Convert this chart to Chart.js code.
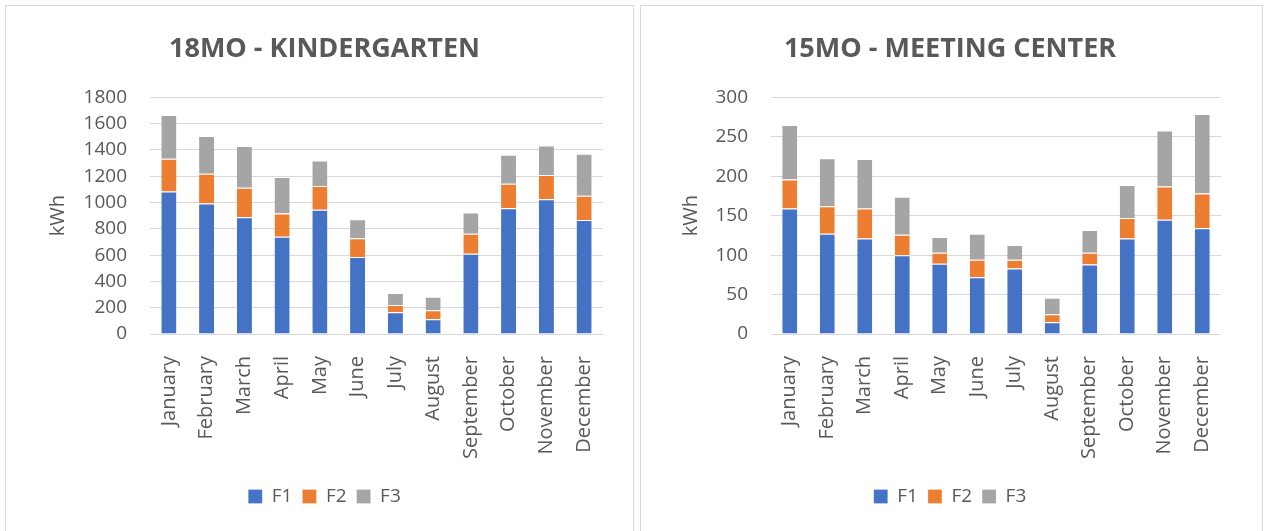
<!DOCTYPE html>
<html>
<head>
<meta charset="utf-8">
<script src="https://cdn.jsdelivr.net/npm/chart.js@4"></script>
<style>
  body { margin: 0; background: #fff; }
  .panel { position: absolute; top: 5px; height: 540px; border: 1px solid #d9d9d9; background: #fff; }
  #p1 { left: 5px; width: 627px; }
  #p2 { left: 640px; width: 621px; }
  canvas { display: block; }
</style>
</head>
<body>
<div class="panel" id="p1"><canvas id="kinderChart" width="627" height="526"></canvas></div>
<div class="panel" id="p2"><canvas id="meetingChart" width="621" height="526"></canvas></div>
<script>
const months = ['January', 'February', 'March', 'April', 'May', 'June', 'July', 'August', 'September', 'October', 'November', 'December'];

// 18MO - Kindergarten (kWh)
const kinderF1 = [1085, 993, 888, 740, 945, 585, 166, 112, 610, 957, 1026, 868];
const kinderF2 = [248, 227, 225, 177, 181, 143, 54, 69, 153, 187, 184, 184];
const kinderF3 = [334, 286, 317, 278, 194, 145, 91, 102, 161, 219, 225, 319];

// 15MO - Meeting center (kWh)
const meetingF1 = [159, 127, 121, 100, 89, 72, 83, 15, 88, 121, 145, 134];
const meetingF2 = [37, 35, 38, 26, 14, 22, 11, 10, 15, 26, 42, 44];
const meetingF3 = [69, 61, 63, 48, 20, 33, 19, 21, 29, 42, 71, 101];

const colors = ['#4472c4', '#ed7d31', '#a5a5a5'];
const txt = '#595959';
const fontFamily = "'Open Sans', 'Liberation Sans', sans-serif";

function makeChart(id, title, f1, f2, f3, max, step, leftPad, yWidth, rightPad) {
    const ctx = document.getElementById(id).getContext('2d');
    return new Chart(ctx, {
        type: 'bar',
        data: {
            labels: months,
            datasets: [
                { label: 'F1', data: f1, backgroundColor: colors[0] },
                { label: 'F2', data: f2, backgroundColor: colors[1] },
                { label: 'F3', data: f3, backgroundColor: colors[2] }
            ].map(d => Object.assign(d, {
                borderColor: '#ffffff',
                borderWidth: { top: 1 },
                borderSkipped: 'bottom',
                barPercentage: 0.4,
                categoryPercentage: 1
            }))
        },
        options: {
            responsive: false,
            animation: false,
            layout: { padding: { left: leftPad, right: rightPad, top: 12, bottom: 16 } },
            plugins: {
                title: {
                    display: true,
                    text: title,
                    color: txt,
                    font: { family: fontFamily, size: 27, weight: 'bold' },
                    padding: { top: 15, bottom: 32 }
                },
                legend: {
                    position: 'bottom',
                    labels: {
                        color: txt,
                        font: { family: fontFamily, size: 19 },
                        boxWidth: 14,
                        boxHeight: 14,
                        padding: 10
                    }
                },
                tooltip: { enabled: false }
            },
            scales: {
                x: {
                    stacked: true,
                    grid: { display: false },
                    border: { display: false },
                    afterFit: scale => { scale.height = 143; },
                    ticks: {
                        color: txt,
                        font: { family: fontFamily, size: 20 },
                        minRotation: 90,
                        maxRotation: 90,
                        autoSkip: false,
                        padding: 14
                    }
                },
                y: {
                    stacked: true,
                    min: 0,
                    max: max,
                    afterFit: scale => { scale.width = yWidth; },
                    ticks: {
                        stepSize: step,
                        color: txt,
                        font: { family: fontFamily, size: 19 },
                        padding: 23,
                        callback: value => value
                    },
                    grid: { color: '#d9d9d9', lineWidth: 1, drawTicks: false },
                    border: { display: false },
                    title: {
                        display: true,
                        text: 'kWh',
                        color: txt,
                        font: { family: fontFamily, size: 20 },
                        padding: { top: 0, bottom: 0 }
                    }
                }
            }
        }
    });
}

makeChart('kinderChart', '18MO - KINDERGARTEN', kinderF1, kinderF2, kinderF3, 1800, 200, 40, 104, 30);
makeChart('meetingChart', '15MO - MEETING CENTER', meetingF1, meetingF2, meetingF3, 300, 50, 38, 92, 41);
</script>
</body>
</html>
